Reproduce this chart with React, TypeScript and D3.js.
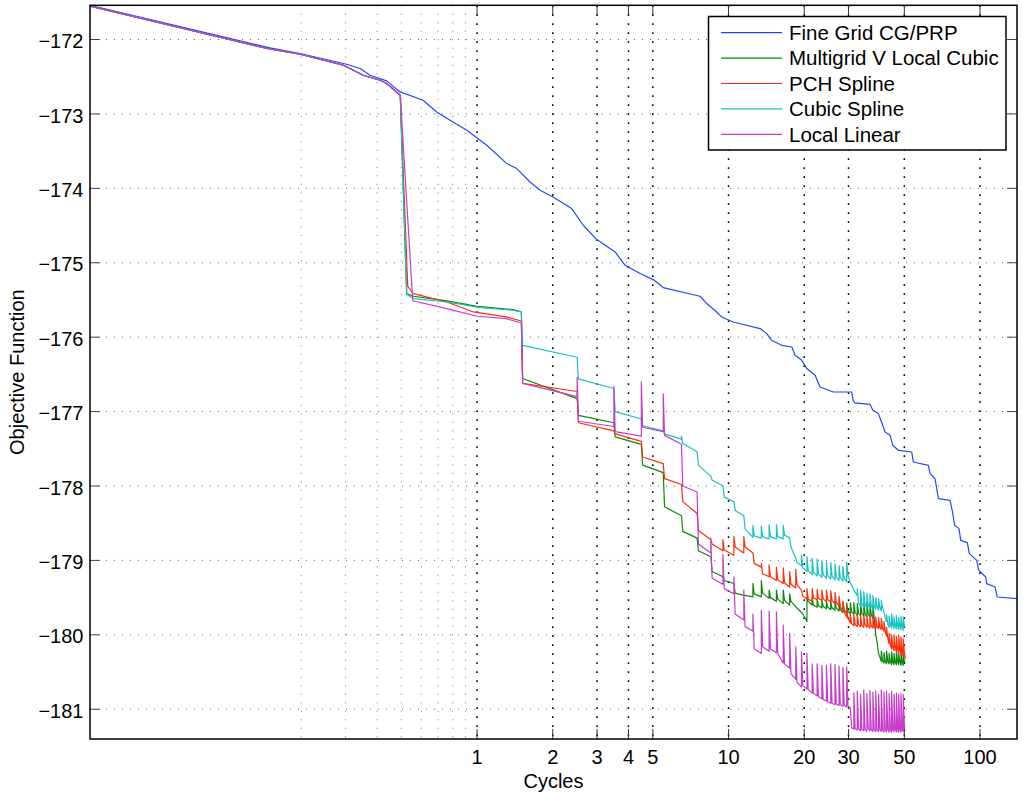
import React from "react";
import * as d3 from "d3";

const W = 1026;
const H = 797;
const box = { left: 90, right: 1017, top: 5.3, bottom: 739 };
const font = "'Liberation Sans', Arial, Helvetica, sans-serif";

// axis setup
const xDomain = [0.0289, 140.3];
const yDomain = [-181.4, -171.54];
const xTicks = [1, 2, 3, 4, 5, 10, 20, 30, 50, 100];
const xMinorGrid = [0.2, 0.3, 0.4, 0.5, 0.6, 0.7, 0.8, 0.9];
const yTicks = [-172, -173, -174, -175, -176, -177, -178, -179, -180, -181];

const seriesNames = ["Fine Grid CG/PRP", "Multigrid V Local Cubic", "PCH Spline", "Cubic Spline", "Local Linear"];
const seriesColors = ["#2347ff", "#0a880a", "#ff2d0a", "#16c2c4", "#c83ccb"];

// fine grid run
const fineGrid = [
  [0.0289, -171.54], [0.15, -172.113], [0.198, -172.188], [0.303, -172.332], [0.343, -172.39],
  [0.375, -172.48], [0.437, -172.556], [0.494, -172.704], [0.61, -172.816], [0.691, -172.973],
  [0.781, -173.085], [0.91, -173.219], [1.093, -173.42], [1.313, -173.667], [1.438, -173.734],
  [1.625, -173.914], [1.781, -174.026], [2.005, -174.116], [2.378, -174.272], [2.645, -174.496],
  [2.991, -174.688], [3.54, -174.855], [3.88, -175.034], [4.45, -175.145], [5.02, -175.226],
  [5.5, -175.333], [7.7, -175.45], [8.19, -175.548], [8.97, -175.661], [9.39, -175.728],
  [10.44, -175.796], [13.35, -175.884], [14.19, -175.952], [14.83, -176.042], [16.27, -176.109],
  [17.85, -176.132], [18.4, -176.243], [19.55, -176.311], [20.47, -176.422], [22.1, -176.512],
  [23.1, -176.669], [26.1, -176.737], [30.9, -176.737], [31.3, -176.848], [31.8, -176.884],
  [36.5, -176.902], [37.5, -176.982], [39.4, -177.027], [40.6, -177.14], [41.9, -177.274],
  [43.9, -177.319], [45.0, -177.453], [47.3, -177.52], [53.5, -177.543], [54.3, -177.677],
  [62.3, -177.722], [63.3, -177.833], [66.2, -177.9], [67.1, -178.013], [68.3, -178.169],
  [76.0, -178.192], [77.5, -178.326], [79.3, -178.528], [82.5, -178.573], [83.8, -178.73],
  [89.0, -178.761], [90.7, -178.909], [97.0, -178.999], [98.9, -179.133], [105.4, -179.223],
  [106.3, -179.312], [114.7, -179.357], [117.2, -179.492], [140.3, -179.513],
];

// shared start of all multigrid runs (before the first coarse step)
const mgCommon = [
  [0.0289, -171.552], [0.146, -172.121], [0.198, -172.198], [0.294, -172.345],
  [0.353, -172.48], [0.411, -172.547], [0.437, -172.591], [0.495, -172.749],
];

// first cycle of each run
const cubicHead = [[0.525, -175.414], [0.558, -175.45], [0.758, -175.513], [1.0, -175.585], [1.39, -175.629], [1.5, -175.66]];
const pchHead = [[0.53, -175.316], [0.558, -175.414], [0.758, -175.527], [0.967, -175.661], [1.31, -175.728], [1.5, -175.782]];
const splineHead = [[0.525, -175.423], [0.558, -175.481], [0.758, -175.527], [1.03, -175.602], [1.39, -175.638], [1.5, -175.661]];
const linearHead = [[0.555, -175.51], [0.758, -175.616], [1.0, -175.719], [1.31, -175.75], [1.5, -175.81]];

// cycle boundaries for cycles 2..50
const cycleStarts = [
  1.5, 2.5, 3.5, 4.5, 5.5, 6.5, 7.5, 8.5, 9.5, 10.5, 11.5, 12.5, 13.5, 14.5, 15.5, 16.5, 17.5,
  18.5, 19.5, 20.5, 21.5, 22.5, 23.5, 24.5, 25.5, 26.5, 27.5, 28.5, 29.5, 30.5, 31.5, 32.5, 33.5,
  34.5, 35.5, 36.5, 37.5, 38.5, 39.5, 40.5, 41.5, 42.5, 43.5, 44.5, 45.5, 46.5, 47.5, 48.5, 49.5,
];
const lastCycleEnd = 50.5;

// Multigrid V Local Cubic
const cubicPeak = [null, null, null, null, null, null, null, null, null, null, null, -179.31, -179.27, -179.4, -179.4, -179.4, -179.45, null, null, -179.5, -179.5, -179.52, -179.53, -179.54, -179.55, -179.55, -179.56, -179.56, -179.57, -179.57, -179.57, -179.58, -179.57, -179.58, -179.57, -179.58, -179.6, null, null, -180.22, -180.24, -180.22, -180.25, -180.23, -180.25, -180.22, -180.25, -180.24, -180.23];
const cubicStart = [-176.556, -177.05, -177.34, -177.72, -178.28, -178.61, -178.87, -179.15, -179.27, -179.44, -179.47, -179.45, -179.44, -179.5, -179.52, -179.54, -179.55, -179.64, -179.72, -179.55, -179.6, -179.61, -179.62, -179.63, -179.64, -179.64, -179.66, -179.67, -179.68, -179.69, -179.7, -179.71, -179.71, -179.72, -179.72, -179.73, -179.78, -180.1, -180.3, -180.35, -180.36, -180.36, -180.36, -180.37, -180.37, -180.37, -180.37, -180.38, -180.37];
const cubicEnd = [-176.825, -177.15, -177.44, -177.82, -178.4, -178.7, -178.95, -179.22, -179.31, -179.47, -179.49, -179.49, -179.51, -179.55, -179.58, -179.6, -179.62, -179.7, -179.82, -179.6, -179.63, -179.64, -179.65, -179.66, -179.67, -179.68, -179.7, -179.71, -179.72, -179.73, -179.74, -179.75, -179.75, -179.76, -179.76, -179.78, -180.0, -180.25, -180.36, -180.38, -180.39, -180.39, -180.4, -180.4, -180.4, -180.4, -180.41, -180.41, -180.38];

// PCH Spline
const pchPeak = [null, null, null, null, null, null, null, null, -178.72, -178.68, -178.68, null, -179.04, -179.06, -179.09, -179.1, -179.15, -179.12, null, -179.38, -179.38, -179.39, -179.4, -179.4, -179.41, -179.43, -179.48, -179.55, -179.62, -179.72, -179.73, -179.72, -179.74, -179.73, -179.75, -179.74, -179.75, -179.76, -179.77, -179.78, -179.82, -179.9, -179.98, -180.0, -180.0, -180.02, -180.01, -180.03, -180.05];
const pchStart = [-176.62, -177.15, -177.3, -177.61, -177.9, -178.21, -178.6, -178.78, -178.86, -178.82, -178.82, -179.04, -179.18, -179.22, -179.26, -179.3, -179.32, -179.33, -179.48, -179.52, -179.5, -179.51, -179.52, -179.53, -179.54, -179.56, -179.62, -179.7, -179.78, -179.85, -179.86, -179.86, -179.87, -179.87, -179.88, -179.88, -179.89, -179.89, -179.9, -179.91, -179.96, -180.05, -180.14, -180.17, -180.18, -180.2, -180.21, -180.23, -180.26];
const pchEnd = [-176.73, -177.26, -177.4, -177.7, -177.98, -178.37, -178.72, -178.87, -178.93, -178.9, -178.9, -179.09, -179.22, -179.27, -179.31, -179.36, -179.37, -179.4, -179.52, -179.55, -179.53, -179.54, -179.55, -179.56, -179.58, -179.62, -179.68, -179.76, -179.84, -179.88, -179.89, -179.89, -179.9, -179.9, -179.91, -179.91, -179.92, -179.92, -179.93, -179.95, -180.02, -180.12, -180.19, -180.21, -180.23, -180.25, -180.27, -180.29, -180.32];

// Cubic Spline
const splinePeak = [null, null, null, null, null, -177.33, null, -177.86, -178.0, null, null, -178.53, -178.54, -178.52, -178.52, -178.53, null, null, -178.93, -178.95, -178.97, -178.98, -179.0, -179.02, -179.03, -179.05, -179.07, -179.08, -179.02, null, null, -179.38, -179.4, -179.42, -179.44, -179.45, -179.47, -179.5, -179.52, -179.54, null, -179.73, -179.75, -179.72, -179.76, -179.74, -179.77, -179.75, -179.76];
const splineStart = [-176.11, -176.56, -177.0, -177.19, -177.3, -177.43, -177.72, -177.92, -178.15, -178.33, -178.58, -178.67, -178.68, -178.68, -178.68, -178.66, -178.82, -179.03, -179.1, -179.14, -179.16, -179.18, -179.19, -179.2, -179.21, -179.22, -179.23, -179.24, -179.2, -179.33, -179.43, -179.57, -179.58, -179.59, -179.6, -179.61, -179.61, -179.62, -179.63, -179.64, -179.78, -179.86, -179.87, -179.87, -179.88, -179.88, -179.89, -179.89, -179.89];
const splineEnd = [-176.27, -176.69, -177.1, -177.26, -177.37, -177.54, -177.87, -178.0, -178.21, -178.4, -178.69, -178.7, -178.71, -178.71, -178.71, -178.7, -178.97, -179.07, -179.15, -179.19, -179.21, -179.23, -179.24, -179.25, -179.26, -179.27, -179.28, -179.29, -179.3, -179.4, -179.47, -179.62, -179.63, -179.64, -179.65, -179.66, -179.66, -179.67, -179.68, -179.69, -179.82, -179.9, -179.91, -179.92, -179.92, -179.93, -179.93, -179.94, -179.9];

// Local Linear
const linearPeak = [null, -176.54, -176.66, -176.6, -176.76, null, null, -178.7, -178.92, -179.22, -179.4, -179.72, -179.67, -179.68, -179.69, -179.87, -179.98, -180.16, -180.23, -180.25, -180.39, -180.39, -180.41, -180.41, -180.39, -180.4, -180.42, -180.44, -180.43, null, -180.78, -180.76, -180.8, -180.74, -180.79, -180.75, -180.77, -180.75, -180.8, -180.74, -180.77, -180.76, -180.79, -180.76, -180.8, -180.78, -180.8, -180.79, -180.8];
const linearStart = [-176.62, -177.13, -177.27, -177.21, -177.32, -178.0, -178.78, -179.24, -179.38, -179.72, -179.89, -180.19, -180.16, -180.19, -180.25, -180.39, -180.52, -180.64, -180.68, -180.74, -180.79, -180.83, -180.87, -180.9, -180.92, -180.93, -180.94, -180.95, -180.96, -181.25, -181.26, -181.26, -181.27, -181.27, -181.26, -181.27, -181.27, -181.28, -181.27, -181.28, -181.28, -181.27, -181.28, -181.28, -181.27, -181.28, -181.28, -181.28, -181.28];
const linearEnd = [-176.8, -177.2, -177.33, -177.27, -177.44, -178.08, -178.9, -179.32, -179.45, -179.8, -179.95, -180.25, -180.22, -180.24, -180.38, -180.45, -180.6, -180.7, -180.73, -180.78, -180.82, -180.86, -180.89, -180.92, -180.94, -180.95, -180.96, -180.97, -180.98, -181.27, -181.28, -181.29, -181.29, -181.3, -181.29, -181.3, -181.3, -181.3, -181.3, -181.31, -181.3, -181.31, -181.31, -181.3, -181.31, -181.31, -181.31, -181.3, -181.29];

function multigridRun(head, peaks, starts, ends) {
  const pts = [...mgCommon, ...head];
  cycleStarts.forEach((b, i) => {
    if (peaks[i] != null) pts.push([b, peaks[i]]);
    pts.push([b * 1.012, starts[i]]);
    const next = i + 1 < cycleStarts.length ? cycleStarts[i + 1] : lastCycleEnd;
    pts.push([next, ends[i]]);
  });
  return pts;
}

export default function App() {
  const x = d3.scaleLog().domain(xDomain).range([box.left, box.right]);
  const y = d3.scaleLinear().domain(yDomain).range([box.bottom, box.top]);
  const line = d3.line<number[]>().x(d => x(d[0])).y(d => y(d[1]));

  const runs = [
    fineGrid,
    multigridRun(cubicHead, cubicPeak, cubicStart, cubicEnd),
    multigridRun(pchHead, pchPeak, pchStart, pchEnd),
    multigridRun(splineHead, splinePeak, splineStart, splineEnd),
    multigridRun(linearHead, linearPeak, linearStart, linearEnd),
  ];

  const legX = 708.5, legY = 16.5, legW = 297.5, legH = 133.5, rowH = 25.4;

  return (
    <svg width={W} height={H} style={{ position: "absolute", left: 0, top: 0, background: "#fff" }} fontFamily={font}>
      <defs>
        <clipPath id="plotArea">
          <rect x={box.left} y={box.top} width={box.right - box.left} height={box.bottom - box.top} />
        </clipPath>
      </defs>

      {/* grid */}
      {yTicks.map(t => (
        <line key={"gy" + t} x1={box.left} x2={box.right} y1={y(t)} y2={y(t)}
          stroke="#666" strokeWidth={1} strokeDasharray="1,7" />
      ))}
      {xMinorGrid.map(t => (
        <line key={"gm" + t} x1={x(t)} x2={x(t)} y1={box.top} y2={box.bottom}
          stroke="#777" strokeWidth={1} strokeDasharray="1,7.5" />
      ))}
      {xTicks.map(t => (
        <line key={"gx" + t} x1={x(t)} x2={x(t)} y1={box.top} y2={box.bottom}
          stroke="#000" strokeWidth={1.5} strokeDasharray="1.6,7.4" />
      ))}

      {/* runs */}
      <g clipPath="url(#plotArea)" fill="none" strokeWidth={1.2} strokeLinejoin="round">
        {runs.map((r, i) => (
          <path key={seriesNames[i]} d={line(r) || ""} stroke={seriesColors[i]} />
        ))}
      </g>

      {/* ticks */}
      {xTicks.map(t => (
        <g key={"tx" + t} stroke="#333" strokeWidth={1}>
          <line x1={x(t)} x2={x(t)} y1={box.bottom} y2={box.bottom - 10} />
          <line x1={x(t)} x2={x(t)} y1={box.top} y2={box.top + 10} />
        </g>
      ))}
      {yTicks.map(t => (
        <g key={"ty" + t} stroke="#444" strokeWidth={1}>
          <line x1={box.left} x2={box.left + 10} y1={y(t)} y2={y(t)} />
          <line x1={box.right} x2={box.right - 10} y1={y(t)} y2={y(t)} />
        </g>
      ))}
      <rect x={box.left} y={box.top} width={box.right - box.left} height={box.bottom - box.top}
        fill="none" stroke="#000" strokeWidth={1.5} />

      {/* tick labels */}
      {xTicks.map(t => (
        <text key={"lx" + t} x={x(t)} y={764.3} textAnchor="middle" fontSize={20} fill="#000">{t}</text>
      ))}
      {yTicks.map(t => (
        <text key={"ly" + t} x={83.5} y={y(t) + 8.6} textAnchor="end" fontSize={20} fill="#000">
          {"\u2212" + Math.abs(t)}
        </text>
      ))}

      {/* axis titles */}
      <text x={(box.left + box.right) / 2} y={788.3} textAnchor="middle" fontSize={20}>Cycles</text>
      <text transform={`translate(24,${(box.top + box.bottom) / 2}) rotate(-90)`} textAnchor="middle" fontSize={20}>
        Objective Function
      </text>

      {/* legend */}
      <rect x={legX} y={legY} width={legW} height={legH} fill="#fff" stroke="#000" strokeWidth={1.5} />
      {seriesNames.map((n, i) => {
        const ry = legY + 16.2 + i * rowH;
        return (
          <g key={"leg" + n}>
            <line x1={721} x2={782} y1={ry} y2={ry} stroke={seriesColors[i]} strokeWidth={1.2} />
            <text x={789} y={ry + 7.3} fontSize={20.5} fill="#000">{n}</text>
          </g>
        );
      })}
    </svg>
  );
}
